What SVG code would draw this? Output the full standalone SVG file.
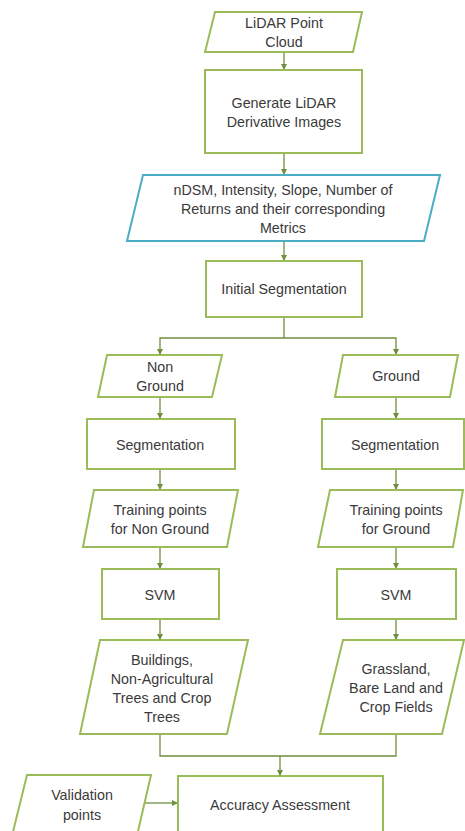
<svg xmlns="http://www.w3.org/2000/svg" width="465" height="831" viewBox="0 0 465 831">
<style>
.g{fill:#fff;stroke:#9bbb59;stroke-width:2}
.b{fill:#fff;stroke:#4bacc6;stroke-width:2}
.c{fill:none;stroke:#6f8f3f;stroke-width:1.3}
text{font-family:"Liberation Sans",Arial,sans-serif;font-size:14.3px;fill:#3a3a3a;text-anchor:middle}
</style>
<defs>
<marker id="ah" markerWidth="6" markerHeight="6" refX="5" refY="3" orient="auto" markerUnits="userSpaceOnUse">
<path d="M0,0 L6,3 L0,6 z" fill="#6f8f3f"/>
</marker>
</defs>
<rect width="465" height="831" fill="#fff"/>
<g id="connectors">
<line class="c" x1="284" y1="52" x2="284" y2="69" marker-end="url(#ah)"/>
<line class="c" x1="284" y1="153" x2="284" y2="174" marker-end="url(#ah)"/>
<line class="c" x1="284" y1="241" x2="284" y2="260" marker-end="url(#ah)"/>
<polyline class="c" points="284,317 284,338 160,338 160,354" marker-end="url(#ah)"/>
<polyline class="c" points="284,338 396,338 396,354" marker-end="url(#ah)"/>
<line class="c" x1="160" y1="397" x2="160" y2="418" marker-end="url(#ah)"/>
<line class="c" x1="396" y1="397" x2="396" y2="418" marker-end="url(#ah)"/>
<line class="c" x1="160" y1="469" x2="160" y2="489" marker-end="url(#ah)"/>
<line class="c" x1="396" y1="469" x2="396" y2="489" marker-end="url(#ah)"/>
<line class="c" x1="160" y1="547" x2="160" y2="568" marker-end="url(#ah)"/>
<line class="c" x1="396" y1="547" x2="396" y2="568" marker-end="url(#ah)"/>
<line class="c" x1="160" y1="619" x2="160" y2="639" marker-end="url(#ah)"/>
<line class="c" x1="396" y1="619" x2="396" y2="639" marker-end="url(#ah)"/>
<polyline class="c" points="160,734 160,756 396,756 396,734"/>
<line class="c" x1="280" y1="756" x2="280" y2="775" marker-end="url(#ah)"/>
<line class="c" x1="145" y1="803" x2="177" y2="803" marker-end="url(#ah)"/>
</g>
<g id="lidar">
<polygon class="g" points="215,12 362,12 353,52 205,52"/>
<text x="284" y="28">LiDAR Point</text>
<text x="284" y="47">Cloud</text>
</g>
<g id="generate">
<rect class="g" x="205" y="70" width="157" height="83"/>
<text x="284" y="108">Generate LiDAR</text>
<text x="284" y="127">Derivative Images</text>
</g>
<g id="ndsm">
<polygon class="b" points="143,175 440,175 424,241 127,241"/>
<text x="283" y="195">nDSM, Intensity, Slope, Number of</text>
<text x="283" y="214">Returns and their corresponding</text>
<text x="283" y="233">Metrics</text>
</g>
<g id="initseg">
<rect class="g" x="206" y="261" width="156" height="56"/>
<text x="284" y="294">Initial Segmentation</text>
</g>
<g id="nonground">
<polygon class="g" points="107,355 222,355 212,397 98,397"/>
<text x="160" y="372">Non</text>
<text x="160" y="391">Ground</text>
</g>
<g id="ground">
<polygon class="g" points="343,355 458,355 450,397 335,397"/>
<text x="396" y="381">Ground</text>
</g>
<g id="seg-left">
<rect class="g" x="87" y="419" width="148" height="50"/>
<text x="160" y="450">Segmentation</text>
</g>
<g id="seg-right">
<rect class="g" x="322" y="419" width="142" height="50"/>
<text x="395" y="450">Segmentation</text>
</g>
<g id="train-left">
<polygon class="g" points="94,490 238,490 227,547 83,547"/>
<text x="160" y="515">Training points</text>
<text x="160" y="534">for Non Ground</text>
</g>
<g id="train-right">
<polygon class="g" points="330,490 463,490 453,547 318,547"/>
<text x="396" y="515">Training points</text>
<text x="396" y="534">for Ground</text>
</g>
<g id="svm-left">
<rect class="g" x="102" y="569" width="117" height="50"/>
<text x="160" y="600">SVM</text>
</g>
<g id="svm-right">
<rect class="g" x="337" y="569" width="119" height="50"/>
<text x="396" y="600">SVM</text>
</g>
<g id="buildings">
<polygon class="g" points="100,640 248,640 227,734 80,734"/>
<text x="162" y="665">Buildings,</text>
<text x="162" y="684">Non-Agricultural</text>
<text x="162" y="703">Trees and Crop</text>
<text x="162" y="722">Trees</text>
</g>
<g id="grassland">
<polygon class="g" points="343,640 464,640 442,734 320,734"/>
<text x="396" y="674">Grassland,</text>
<text x="396" y="693">Bare Land and</text>
<text x="396" y="712">Crop Fields</text>
</g>
<g id="validation">
<polygon class="g" points="27,775 151,775 136,840 11,840"/>
<text x="82" y="800">Validation</text>
<text x="82" y="820">points</text>
</g>
<g id="accuracy">
<rect class="g" x="178" y="776" width="205" height="70"/>
<text x="280" y="810">Accuracy Assessment</text>
</g>
</svg>
